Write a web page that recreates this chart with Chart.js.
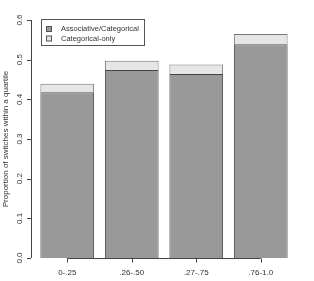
<!DOCTYPE html>
<html>
<head>
<meta charset="utf-8">
<script src="https://cdn.jsdelivr.net/npm/chart.js@4"></script>
<style>
  html, body { margin: 0; padding: 0; background: #fff; }
  canvas { display: block; }
</style>
</head>
<body>
<canvas id="chart" width="314" height="281"></canvas>
<script>
// data
const categories = ['0-.25', '.26-.50', '.27-.75', '.76-1.0'];
const assocCategorical = [0.418, 0.474, 0.464, 0.539];
const categoricalOnly = [0.021, 0.023, 0.024, 0.026];
const yTickValues = [0, 0.1, 0.2, 0.3, 0.4, 0.5, 0.6];
const yTickLabels = ['0.0', '0.1', '0.2', '0.3', '0.4', '0.5', '0.6'];
const seriesNames = ['Associative/Categorical', 'Categorical-only'];

const FONT = '8px "Liberation Sans", Arial, sans-serif';
const LEGEND_FONT = '7.5px "Liberation Sans", Arial, sans-serif';
const TEXT = '#333';

// R-style axes + legend drawn by hand
const rAxes = {
  id: 'rAxes',
  afterDraw(chart) {
    const ctx = chart.ctx;
    const xs = chart.scales.x;
    const ys = chart.scales.y;
    const axX = chart.chartArea.left - 4;
    ctx.save();
    ctx.strokeStyle = '#444';
    ctx.lineWidth = 1;
    ctx.fillStyle = TEXT;
    ctx.font = FONT;

    // y axis
    const y0 = ys.getPixelForValue(yTickValues[0]);
    const y1 = ys.getPixelForValue(yTickValues[yTickValues.length - 1]);
    ctx.beginPath();
    ctx.moveTo(axX + 0.5, y0);
    ctx.lineTo(axX + 0.5, y1);
    yTickValues.forEach(v => {
      const py = Math.round(ys.getPixelForValue(v)) + 0.5;
      ctx.moveTo(axX, py);
      ctx.lineTo(axX - 4, py);
    });
    ctx.stroke();
    ctx.textAlign = 'center';
    ctx.textBaseline = 'middle';
    yTickValues.forEach((v, i) => {
      ctx.save();
      ctx.translate(20, ys.getPixelForValue(v));
      ctx.rotate(-Math.PI / 2);
      ctx.fillText(yTickLabels[i], 0, 0);
      ctx.restore();
    });
    ctx.save();
    ctx.translate(6, (y0 + y1) / 2);
    ctx.rotate(-Math.PI / 2);
    ctx.fillText('Proportion of switches within a quartile', 0, 0);
    ctx.restore();

    // x axis
    const bx = Math.round(ys.getPixelForValue(0)) + 0.5;
    ctx.beginPath();
    ctx.moveTo(xs.getPixelForValue(0), bx);
    ctx.lineTo(xs.getPixelForValue(categories.length - 1), bx);
    categories.forEach((c, i) => {
      const px = Math.round(xs.getPixelForValue(i)) + 0.5;
      ctx.moveTo(px, bx);
      ctx.lineTo(px, bx + 4);
    });
    ctx.stroke();
    categories.forEach((c, i) => {
      ctx.fillText(c, xs.getPixelForValue(i), 273);
    });

    // legend
    ctx.font = LEGEND_FONT;
    ctx.strokeStyle = '#555';
    ctx.strokeRect(41.5, 19.5, 103, 26);
    const fills = ['#999999', '#e6e6e6'];
    ctx.textAlign = 'left';
    seriesNames.forEach((name, i) => {
      const ly = 29 + i * 9.5;
      ctx.fillStyle = fills[i];
      ctx.fillRect(46, ly - 2.5, 5, 5);
      ctx.strokeStyle = '#555';
      ctx.strokeRect(46.5, ly - 2.5, 5, 5);
      ctx.fillStyle = TEXT;
      ctx.fillText(name, 61, ly);
    });
    ctx.restore();
  }
};

new Chart(document.getElementById('chart'), {
  type: 'bar',
  data: {
    labels: categories,
    datasets: [{
      label: seriesNames[0],
      data: assocCategorical,
      backgroundColor: '#999999',
      borderColor: '#444',
      borderWidth: 1,
      borderSkipped: 'start'
    }, {
      label: seriesNames[1],
      data: categoricalOnly,
      backgroundColor: '#e6e6e6',
      borderColor: '#777',
      borderWidth: 1,
      borderSkipped: 'start'
    }]
  },
  options: {
    responsive: false,
    animation: false,
    layout: { padding: { left: 35, right: 21, top: 20, bottom: 23 } },
    datasets: { bar: { barPercentage: 0.833, categoryPercentage: 1 } },
    scales: {
      x: { stacked: true, display: false },
      y: { stacked: true, display: false, min: 0, max: 0.6 }
    },
    plugins: {
      legend: { display: false },
      tooltip: { enabled: false }
    }
  },
  plugins: [rAxes]
});
</script>
</body>
</html>
